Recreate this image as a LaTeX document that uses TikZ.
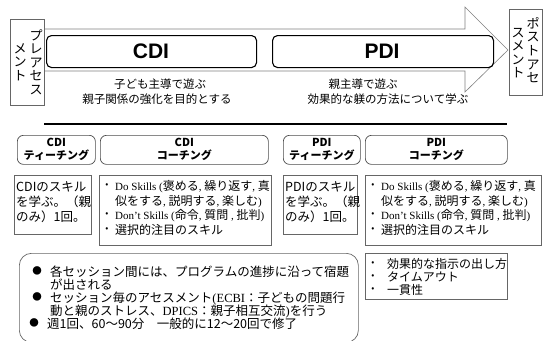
\documentclass[tikz,border=0pt]{standalone}
\usepackage{fontspec}
\setmainfont{Liberation Serif}
\newfontfamily\jp{Noto Sans CJK JP}
\newfontfamily\hv{Liberation Sans}
\newcommand\lt[1]{{\rmfamily\fontsize{11}{12}\selectfont #1}}
\newcommand\ltb[1]{{\rmfamily\fontsize{12.5}{13}\selectfont #1}}
\begin{document}
\begin{tikzpicture}[x=1pt,y=-1pt,
  arrowline/.style={draw=black!50, line width=0.6pt},
  bigbox/.style={draw=black, line width=1.1pt, rounded corners=5pt, anchor=north west, inner sep=0},
  hdrbox/.style={draw=black!70, line width=0.7pt, rounded corners=6pt, anchor=north west, inner sep=0,
     align=center, font=\jp\bfseries\fontsize{11}{13}\selectfont},
  txtbox/.style={draw=black!60, line width=0.6pt, anchor=north west, inner sep=0},
  vtext/.style={font=\jp\fontsize{13}{13.6}\selectfont, align=center, inner sep=0},
  subtxt/.style={font=\jp\fontsize{11.5}{13}\selectfont, inner sep=0},
  ln/.style={font=\jp\fontsize{12}{13}\selectfont, inner sep=0, anchor=base west},
  lnb/.style={font=\jp\fontsize{12.5}{13}\selectfont, inner sep=0, anchor=base west},
  sb/.style={font=\jp\fontsize{9}{9}\selectfont, inner sep=0},
  bb/.style={font=\jp\fontsize{9.5}{10}\selectfont, inner sep=0}
]
\useasboundingbox (0,0) rectangle (546,340);

% big arrow
\draw[arrowline, fill=white] (44,29) -- (465,29) -- (465,7) -- (508,50) -- (465,92) -- (465,71) -- (44,71);

% pre / post assessment
\node[txtbox, minimum width=34pt, minimum height=86pt] (pre) at (10,19) {};
\node[vtext] (preA) at (36,62) {プ\\レ\\ア\\セ\\ス};
\node[vtext] (preB) at (20,62) {メ\\ン\\ト};
\node[txtbox, minimum width=33pt, minimum height=86pt] (post) at (509,9) {};
\node[vtext] (postA) at (533,50) {ポ\\ス\\ト\\ア\\セ};
\node[vtext] (postB) at (518,53) {ス\\メ\\ン\\ト};

% CDI / PDI boxes
\node[bigbox, minimum width=210pt, minimum height=32pt] (cdibox) at (46,35) {};
\node[font=\hv\bfseries\fontsize{21}{21}\selectfont, inner sep=0] (cdit) at (151,51) {CDI};
\node[bigbox, minimum width=221pt, minimum height=32pt] (pdibox) at (272,35) {};
\node[font=\hv\bfseries\fontsize{21}{21}\selectfont, inner sep=0] (pdit) at (382,51) {PDI};

\node[subtxt] (cs1) at (160,84) {子ども主導で遊ぶ};
\node[subtxt] (cs2) at (157,99) {親子関係の強化を目的とする};
\node[subtxt] (ps1) at (363,84) {親主導で遊ぶ};
\node[subtxt] (ps2) at (388,99) {効果的な躾の方法について学ぶ};

% separator
\coordinate (ls) at (44,124);
\coordinate (le) at (507,124);
\draw[line width=2pt] (ls) -- (le);

% header boxes
\node[hdrbox, minimum width=78pt, minimum height=29pt] (ct) at (17,135) {CDI\\ティーチング};
\node[hdrbox, minimum width=168pt, minimum height=29pt] (cc) at (100,135) {CDI\\コーチング};
\node[hdrbox, minimum width=77pt, minimum height=29pt] (pt) at (283,135) {PDI\\ティーチング};
\node[hdrbox, minimum width=142pt, minimum height=29pt] (pc) at (365,135) {PDI\\コーチング};

% text boxes
\node[txtbox, minimum width=77pt, minimum height=59pt] (cdis) at (14,175) {};
\node[lnb] (cdis1) at (16,191) {CDIのスキル};
\node[lnb] (cdis2) at (16,206) {を学ぶ。（親};
\node[lnb] (cdis3) at (16,221) {のみ）1回。};

\node[txtbox, minimum width=172pt, minimum height=70pt] (cdil) at (99,175) {};
\node[sb] (cb1) at (107,186) {•};
\node[ln] (cl1) at (115,190.5) {\lt{Do Skills (}褒める\lt{, }繰り返す\lt{, }真};
\node[ln] (cl2) at (115,205) {似をする\lt{, }説明する\lt{, }楽しむ\lt{)}};
\node[sb] (cb2) at (107,215) {•};
\node[ln] (cl3) at (115,219.5) {\lt{Don't Skills (}命令\lt{, }質問\lt{ , }批判\lt{)}};
\node[sb] (cb3) at (107,229.5) {•};
\node[ln] (cl4) at (115,234) {選択的注目のスキル};

\node[txtbox, minimum width=74pt, minimum height=59pt] (pdis) at (283,175) {};
\node[lnb] (pdis1) at (285,191) {PDIのスキル};
\node[lnb] (pdis2) at (285,206) {を学ぶ。（親};
\node[lnb] (pdis3) at (285,221) {のみ）1回。};

\node[txtbox, minimum width=176pt, minimum height=70pt] (pdil) at (365,175) {};
\node[sb] (pb1) at (373,186) {•};
\node[ln] (pl1) at (381,190.5) {\lt{Do Skills (}褒める\lt{, }繰り返す\lt{, }真};
\node[ln] (pl2) at (381,205) {似をする\lt{, }説明する\lt{, }楽しむ\lt{)}};
\node[sb] (pb2) at (373,215) {•};
\node[ln] (pl3) at (381,219.5) {\lt{Don't Skills (}命令\lt{, }質問\lt{ , }批判\lt{)}};
\node[sb] (pb3) at (373,229.5) {•};
\node[ln] (pl4) at (381,234) {選択的注目のスキル};

\node[txtbox, minimum width=142pt, minimum height=46pt] (pdil2) at (365,253) {};
\node[sb] (qb1) at (373,264) {•};
\node[ln] (ql1) at (387,268.5) {効果的な指示の出し方};
\node[sb] (qb2) at (373,277) {•};
\node[ln] (ql2) at (387,281.5) {タイムアウト};
\node[sb] (qb3) at (373,290) {•};
\node[ln] (ql3) at (387,294.5) {一貫性};

% note box
\node[draw=black!60, line width=0.7pt, rounded corners=12pt, anchor=north west, inner sep=0,
      minimum width=339pt, minimum height=89pt] (note) at (19,253) {};
\node[bb] (nb1) at (37,271) {●};
\node[lnb] (n1) at (50,276) {各セッション間には、プログラムの進捗に沿って宿題};
\node[lnb] (n2) at (50,289) {が出される};
\node[bb] (nb2) at (37,297) {●};
\node[lnb] (n3) at (50,302) {セッション毎のアセスメント\ltb{(ECBI}：子どもの問題行};
\node[lnb] (n4) at (50,315) {動と親のストレス、\ltb{DPICS}：親子相互交流\ltb{)}を行う};
\node[bb] (nb3) at (34,323) {●};
\node[lnb] (n5) at (47,328) {週1回、60〜90分　一般的に12〜20回で修了};
\end{tikzpicture}
\end{document}
